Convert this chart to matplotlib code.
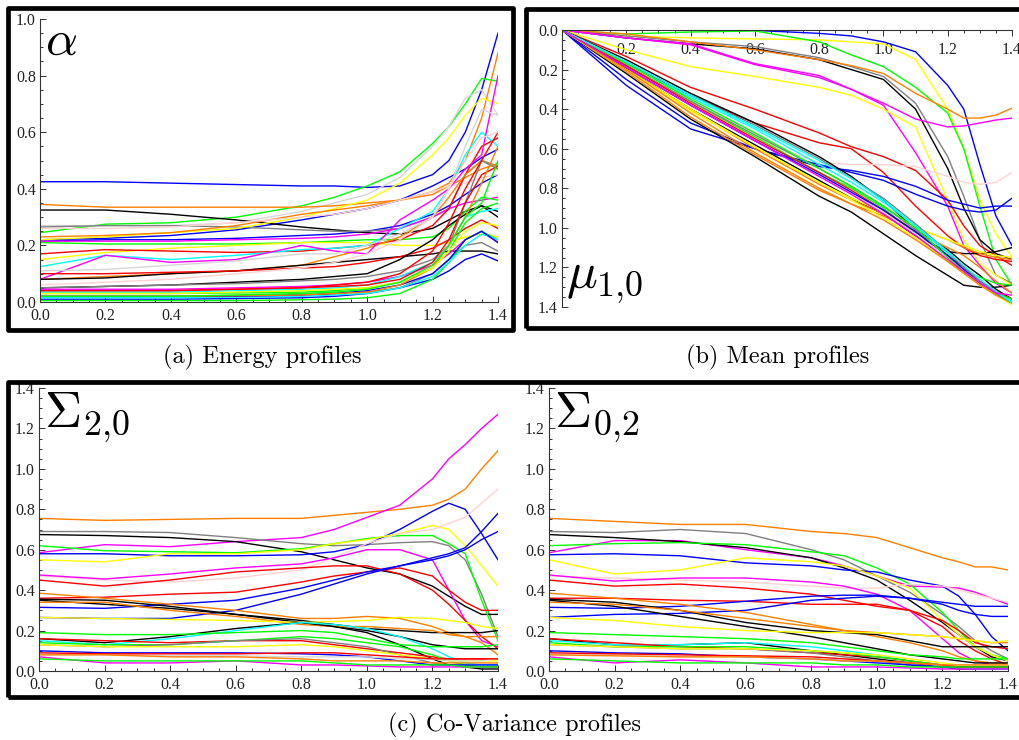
import matplotlib
matplotlib.use('Agg')
import matplotlib.pyplot as plt
from matplotlib.patches import Rectangle
from matplotlib.ticker import MultipleLocator

plt.rcParams['font.family'] = ['Liberation Serif', 'DejaVu Serif']
plt.rcParams['mathtext.fontset'] = 'cm'

# shared x grid of the profiles
xs = [0.0, 0.2, 0.4, 0.6, 0.8, 0.9, 1.0, 1.1, 1.2, 1.25, 1.3, 1.35, 1.4]

# (a) energy profiles
energy_colors = ['blue', 'blue', 'blue', 'blue', 'green', 'lightgray', 'orange', 'black',
                 'gray', 'yellow', 'orange', 'pink', 'magenta', 'green', 'yellow', 'red',
                 'orange', 'cyan', 'magenta', 'lightgray', 'black', 'red', 'black', 'gray',
                 'magenta', 'red', 'cyan', 'green', 'red', 'gray', 'green', 'cyan', 'blue',
                 'orange', 'yellow', 'pink', 'green']
energy_vals = [
    [.425, .425, .42, .415, .41, .41, .405, .41, .45, .5, .6, .75, .95],
    [.22, .225, .235, .255, .29, .31, .33, .36, .41, .44, .47, .51, .54],
    [.215, .22, .22, .225, .235, .24, .25, .27, .31, .34, .38, .42, .45],
    [.01, .01, .01, .012, .015, .02, .03, .05, .08, .11, .15, .17, .145],
    [.245, .275, .28, .3, .34, .37, .41, .46, .56, .62, .7, .79, .78],
    [.27, .27, .27, .28, .32, .35, .38, .44, .55, .62, .72, .75, .66],
    [.345, .335, .335, .335, .335, .34, .35, .36, .39, .42, .5, .65, .88],
    [.325, .325, .31, .29, .265, .255, .245, .24, .26, .29, .32, .34, .3],
    [.265, .27, .27, .265, .255, .25, .25, .26, .3, .33, .45, .5, .48],
    [.22, .23, .245, .26, .3, .33, .36, .42, .52, .58, .66, .72, .7],
    [.23, .235, .245, .27, .31, .325, .34, .36, .38, .41, .44, .47, .49],
    [.26, .26, .265, .28, .3, .31, .33, .36, .39, .41, .42, .44, .45],
    [.215, .215, .215, .22, .225, .23, .24, .26, .3, .33, .35, .36, .37],
    [.21, .205, .205, .205, .21, .215, .22, .22, .23, .26, .32, .37, .36],
    [.15, .175, .19, .2, .21, .21, .21, .2, .2, .21, .23, .24, .23],
    [.17, .185, .18, .175, .18, .19, .2, .22, .27, .33, .45, .55, .58],
    [.08, .09, .1, .11, .13, .16, .19, .23, .3, .37, .45, .5, .47],
    [.125, .165, .15, .165, .185, .19, .2, .26, .32, .4, .52, .6, .55],
    [.08, .165, .14, .15, .2, .18, .17, .29, .36, .4, .47, .52, .8],
    [.11, .115, .13, .145, .17, .17, .2, .24, .3, .4, .55, .68, .66],
    [.08, .085, .1, .11, .13, .14, .15, .16, .17, .18, .18, .18, .17],
    [.1, .1, .105, .11, .12, .125, .14, .16, .19, .22, .26, .29, .26],
    [.05, .055, .06, .07, .08, .09, .1, .15, .22, .27, .31, .34, .32],
    [.05, .055, .06, .065, .075, .08, .09, .11, .15, .2, .35, .5, .47],
    [.045, .045, .045, .05, .055, .06, .07, .09, .13, .17, .22, .25, .21],
    [.04, .04, .04, .045, .05, .06, .07, .1, .18, .28, .4, .5, .6],
    [.035, .035, .035, .04, .045, .05, .06, .09, .14, .2, .3, .32, .33],
    [.03, .03, .03, .032, .035, .04, .05, .07, .12, .18, .28, .33, .35],
    [.04, .04, .04, .045, .05, .055, .06, .08, .14, .22, .35, .45, .48],
    [.02, .02, .02, .022, .025, .03, .035, .05, .1, .15, .2, .21, .18],
    [.005, .005, .005, .005, .008, .01, .015, .03, .08, .14, .22, .25, .22],
    [.015, .015, .015, .017, .02, .025, .03, .05, .09, .14, .2, .24, .22],
    [.02, .02, .02, .02, .025, .03, .04, .06, .1, .15, .22, .25, .21],
    [.02, .02, .02, .022, .025, .03, .035, .06, .12, .2, .3, .42, .55],
    [.03, .03, .03, .035, .04, .045, .05, .07, .12, .18, .25, .28, .27],
    [.06, .07, .08, .1, .12, .14, .17, .22, .3, .4, .5, .58, .6],
    [.02, .02, .02, .025, .03, .035, .045, .07, .13, .2, .3, .35, .5],
]

# (b) mean profiles
mean_colors = ['blue', 'yellow', 'green', 'gray', 'black', 'orange', 'magenta', 'magenta',
               'yellow', 'red', 'red', 'pink', 'blue', 'blue', 'black', 'black', 'black',
               'orange', 'orange', 'yellow', 'green', 'cyan', 'gray', 'lightgray', 'yellow',
               'red', 'blue', 'green', 'orange', 'gray', 'cyan', 'magenta']
mean_vals = [
    [0, 0, 0, .002, .017, .03, .06, .11, .28, .4, .68, .94, 1.09],
    [0, .03, .04, .045, .05, .06, .07, .15, .4, .6, .86, 1.03, 1.15],
    [0, .02, .01, .005, .06, .126, .185, .29, .42, .6, .89, 1.16, 1.29],
    [0, .03, .06, .084, .14, .185, .235, .37, .64, .84, 1.06, 1.24, 1.28],
    [0, .04, .07, .095, .15, .2, .25, .4, .7, .9, 1.06, 1.13, 1.16],
    [0, .02, .06, .1, .15, .18, .22, .32, .4, .445, .445, .43, .395],
    [0, .04, .07, .17, .23, .3, .37, .45, .49, .485, .47, .455, .445],
    [0, .04, .075, .175, .24, .3, .38, .62, .89, 1.09, 1.19, 1.28, 1.33],
    [0, .1, .185, .235, .29, .33, .4, .49, .86, 1.06, 1.18, 1.24, 1.29],
    [0, .134, .29, .4, .52, .59, .64, .71, .86, .99, 1.09, 1.14, 1.19],
    [0, .17, .33, .47, .57, .6, .72, .89, 1.04, 1.1, 1.14, 1.16, 1.17],
    [0, .2, .38, .55, .67, .68, .68, .69, .74, .77, .78, .77, .72],
    [0, .28, .5, .6, .69, .71, .74, .79, .86, .88, .9, .89, .89],
    [0, .25, .47, .6, .68, .72, .76, .83, .89, .91, .92, .91, .85],
    [0, .15, .32, .47, .64, .74, .86, 1.01, 1.11, 1.18, 1.24, 1.31, 1.36],
    [0, .22, .45, .64, .84, .92, 1.03, 1.14, 1.24, 1.29, 1.3, 1.3, 1.29],
    [0, .2, .4, .58, .76, .85, .93, 1.04, 1.12, 1.13, 1.13, 1.12, 1.1],
    [0, .21, .44, .63, .81, .88, .94, 1.02, 1.1, 1.14, 1.2, 1.27, 1.33],
    [0, .2, .4, .6, .78, .86, .93, 1.0, 1.06, 1.1, 1.13, 1.15, 1.16],
    [0, .2, .41, .59, .77, .85, .92, 1.0, 1.06, 1.09, 1.12, 1.14, 1.15],
    [0, .18, .36, .54, .72, .8, .9, 1.03, 1.17, 1.22, 1.25, 1.28, 1.29],
    [0, .17, .34, .5, .68, .77, .87, .99, 1.13, 1.2, 1.27, 1.33, 1.37],
    [0, .18, .36, .53, .7, .79, .89, 1.01, 1.14, 1.21, 1.28, 1.34, 1.38],
    [0, .19, .38, .56, .74, .83, .92, 1.03, 1.15, 1.22, 1.28, 1.34, 1.38],
    [0, .2, .4, .59, .77, .86, .95, 1.05, 1.17, 1.23, 1.29, 1.34, 1.39],
    [0, .18, .37, .55, .72, .81, .91, 1.02, 1.14, 1.2, 1.27, 1.32, 1.36],
    [0, .19, .38, .56, .73, .82, .91, 1.02, 1.14, 1.21, 1.27, 1.33, 1.38],
    [0, .17, .35, .52, .7, .79, .89, 1.0, 1.15, 1.22, 1.28, 1.33, 1.36],
    [0, .2, .42, .62, .8, .88, .96, 1.06, 1.17, 1.23, 1.29, 1.34, 1.38],
    [0, .16, .33, .48, .65, .75, .85, .98, 1.12, 1.2, 1.27, 1.33, 1.38],
    [0, .16, .33, .49, .66, .75, .86, .99, 1.12, 1.19, 1.26, 1.32, 1.38],
    [0, .19, .38, .56, .74, .83, .93, 1.04, 1.16, 1.22, 1.28, 1.33, 1.34],
]

# (c) co-variance profiles, both panels share the colour order
cov_colors = ['orange', 'magenta', 'gray', 'black', 'green', 'blue', 'yellow', 'pink',
              'magenta', 'red', 'red', 'blue', 'blue', 'orange', 'black', 'black', 'orange',
              'yellow', 'black', 'cyan', 'green', 'red', 'green', 'gray', 'yellow', 'blue',
              'lightgray', 'red', 'magenta', 'green', 'orange']
cov20_vals = [
    [.755, .745, .75, .755, .755, .77, .785, .8, .82, .85, .9, 1.0, 1.09],
    [.585, .625, .615, .64, .66, .7, .76, .82, .95, 1.05, 1.12, 1.2, 1.27],
    [.69, .69, .685, .66, .63, .62, .625, .635, .64, .62, .55, .38, .17],
    [.675, .67, .66, .64, .59, .55, .51, .48, .42, .37, .32, .28, .28],
    [.62, .595, .59, .585, .605, .63, .655, .67, .67, .63, .58, .35, .15],
    [.58, .58, .57, .57, .575, .59, .625, .7, .79, .83, .8, .68, .55],
    [.55, .54, .58, .58, .6, .63, .65, .68, .72, .7, .62, .52, .42],
    [.47, .45, .44, .46, .5, .56, .63, .68, .7, .73, .76, .83, .9],
    [.475, .455, .48, .51, .53, .56, .6, .6, .55, .4, .25, .15, .12],
    [.45, .42, .45, .49, .51, .52, .52, .48, .4, .33, .25, .17, .11],
    [.36, .365, .38, .39, .44, .47, .49, .51, .47, .4, .34, .3, .3],
    [.315, .31, .33, .35, .41, .45, .49, .52, .55, .57, .6, .65, .69],
    [.265, .26, .26, .3, .38, .43, .48, .52, .56, .58, .61, .69, .78],
    [.385, .36, .33, .3, .26, .26, .27, .26, .22, .19, .17, .14, .08],
    [.355, .35, .32, .28, .25, .23, .21, .2, .19, .19, .19, .19, .2],
    [.35, .33, .31, .28, .24, .22, .2, .17, .13, .12, .11, .11, .11],
    [.34, .34, .3, .27, .23, .22, .22, .21, .2, .18, .17, .17, .17],
    [.265, .26, .255, .25, .24, .245, .25, .265, .26, .25, .24, .22, .21],
    [.16, .14, .17, .21, .24, .22, .19, .13, .06, .03, .02, .01, .01],
    [.15, .13, .16, .2, .24, .23, .21, .17, .11, .07, .04, .03, .03],
    [.19, .18, .18, .19, .2, .19, .16, .13, .12, .12, .12, .12, .13],
    [.16, .15, .14, .15, .15, .13, .11, .09, .07, .06, .06, .06, .06],
    [.14, .13, .13, .15, .17, .16, .14, .12, .08, .05, .03, .02, .02],
    [.13, .12, .13, .15, .16, .14, .12, .08, .04, .03, .02, .02, .02],
    [.13, .12, .12, .12, .13, .12, .1, .08, .06, .05, .05, .05, .05],
    [.1, .09, .09, .09, .085, .08, .07, .05, .03, .03, .03, .03, .03],
    [.08, .08, .075, .075, .07, .07, .07, .06, .06, .05, .05, .05, .06],
    [.09, .085, .085, .085, .09, .09, .08, .07, .06, .06, .06, .06, .06],
    [.07, .04, .04, .05, .03, .03, .025, .02, .02, .02, .02, .02, .02],
    [.06, .05, .05, .05, .05, .04, .03, .03, .03, .03, .02, .02, .02],
    [.08, .08, .07, .07, .06, .05, .05, .05, .04, .04, .04, .04, .04],
]
cov02_vals = [
    [.755, .74, .725, .725, .69, .68, .66, .61, .56, .54, .515, .515, .5],
    [.585, .645, .645, .6, .56, .52, .47, .42, .415, .41, .39, .36, .33],
    [.69, .685, .7, .68, .6, .55, .47, .39, .28, .22, .15, .1, .06],
    [.675, .66, .64, .61, .56, .51, .45, .35, .24, .18, .12, .07, .05],
    [.62, .63, .635, .625, .59, .57, .51, .43, .29, .2, .12, .08, .06],
    [.575, .58, .57, .535, .52, .5, .49, .45, .42, .37, .28, .17, .1],
    [.55, .48, .5, .56, .54, .52, .47, .41, .25, .18, .12, .08, .05],
    [.47, .46, .45, .44, .42, .41, .41, .43, .42, .4, .38, .36, .34],
    [.475, .445, .46, .46, .44, .42, .38, .3, .16, .09, .05, .03, .02],
    [.45, .42, .43, .41, .38, .35, .32, .3, .22, .15, .1, .06, .03],
    [.36, .36, .35, .345, .33, .33, .33, .3, .25, .2, .14, .12, .11],
    [.315, .31, .32, .345, .37, .375, .375, .36, .34, .33, .32, .32, .32],
    [.265, .28, .285, .3, .35, .36, .37, .36, .33, .3, .28, .27, .27],
    [.385, .36, .33, .29, .23, .2, .17, .14, .1, .07, .05, .04, .03],
    [.355, .34, .3, .24, .2, .19, .18, .15, .12, .12, .12, .12, .12],
    [.35, .32, .27, .22, .17, .14, .11, .08, .06, .05, .04, .04, .04],
    [.34, .33, .3, .26, .22, .2, .19, .18, .17, .16, .15, .14, .14],
    [.265, .25, .22, .2, .19, .19, .19, .18, .17, .16, .15, .14, .15],
    [.16, .13, .13, .14, .1, .08, .06, .04, .02, .01, .01, .01, .01],
    [.15, .13, .13, .14, .12, .1, .08, .05, .02, .015, .01, .01, .01],
    [.19, .18, .17, .16, .14, .12, .1, .08, .07, .06, .06, .06, .06],
    [.16, .14, .12, .11, .09, .08, .07, .05, .03, .02, .02, .02, .02],
    [.14, .12, .12, .12, .1, .09, .07, .05, .03, .02, .02, .02, .02],
    [.13, .12, .11, .11, .09, .07, .05, .03, .02, .02, .02, .02, .02],
    [.13, .12, .11, .11, .1, .09, .08, .06, .04, .03, .03, .03, .03],
    [.1, .09, .085, .07, .06, .05, .04, .03, .02, .02, .02, .02, .02],
    [.08, .08, .07, .07, .06, .05, .05, .04, .03, .03, .03, .03, .03],
    [.09, .085, .08, .075, .07, .06, .05, .04, .03, .02, .02, .02, .02],
    [.07, .04, .055, .04, .02, .02, .02, .015, .01, .01, .01, .01, .01],
    [.06, .05, .04, .04, .04, .03, .03, .02, .02, .02, .02, .02, .02],
    [.08, .075, .07, .07, .06, .05, .05, .04, .03, .03, .03, .03, .03],
]

palette = {'blue': '#0000ff', 'red': '#ff0000', 'green': '#00ff00', 'yellow': '#ffff00',
           'orange': '#ff8000', 'magenta': '#ff00ff', 'cyan': '#00ffff', 'black': '#000000',
           'gray': '#808080', 'lightgray': '#d6d6d6', 'pink': '#ffd2d2'}

fig = plt.figure(figsize=(10.19, 7.40), dpi=100)


def frame(x0, y0, x1, y1):
    # thick black border round a sub-figure, in pixels
    W, H = 1019.0, 740.0
    fig.patches.append(Rectangle((x0 / W, 1 - y1 / H), (x1 - x0) / W, (y1 - y0) / H,
                                 transform=fig.transFigure, fill=False, ec='black',
                                 lw=3.4, joinstyle='round'))


def style_axis(ax, ymax, top=False):
    ax.set_facecolor('none')
    ax.set_xlim(0, 1.4)
    ax.xaxis.set_major_locator(MultipleLocator(0.2))
    ax.xaxis.set_minor_locator(MultipleLocator(0.05))
    ax.yaxis.set_major_locator(MultipleLocator(0.2))
    ax.yaxis.set_minor_locator(MultipleLocator(0.05))
    ax.xaxis.set_major_formatter(lambda v, p: '%.1f' % v)
    ax.yaxis.set_major_formatter(lambda v, p: '%.1f' % v)
    ax.spines['right'].set_visible(False)
    for s in ['left', 'top', 'bottom']:
        ax.spines[s].set_color('#333333')
        ax.spines[s].set_linewidth(0.8)
    ax.tick_params(which='both', direction='in', colors='#333333', labelsize=11.5,
                   labelcolor='#222222', width=0.7)
    ax.tick_params(which='major', length=4.5)
    ax.tick_params(which='minor', length=2.5)
    if top:
        ax.set_ylim(ymax, 0)
        ax.spines['bottom'].set_visible(False)
        ax.xaxis.tick_top()
        ax.tick_params(axis='x', which='both', top=True, bottom=False,
                       labeltop=True, labelbottom=False)
        ax.tick_params(axis='x', which='major', pad=-20)
        ax.xaxis.set_major_formatter(lambda v, p: '' if v < 0.1 else '%.1f' % v)
    else:
        ax.set_ylim(0, ymax)
        ax.spines['top'].set_visible(False)
        ax.tick_params(axis='x', pad=4)
    ax.tick_params(axis='y', pad=3)


def draw(ax, colors, vals):
    for c, v in zip(colors, vals):
        ax.plot(xs, v, color=palette[c], lw=1.0)


# (a)
ax_a = fig.add_axes([40 / 1019, 1 - 302 / 740, 458 / 1019, 283 / 740])
draw(ax_a, energy_colors, energy_vals)
style_axis(ax_a, 1.0)
ax_a.text(0.01, 1.0, r'$\alpha$', transform=ax_a.transAxes, fontsize=36,
          va='top', ha='left')

# (b)
ax_b = fig.add_axes([562 / 1019, 1 - 307 / 740, 450 / 1019, 277 / 740])
draw(ax_b, mean_colors, mean_vals)
style_axis(ax_b, 1.4, top=True)
ax_b.text(0.01, 0.005, r'$\mu_{1{,}0}$', transform=ax_b.transAxes, fontsize=37,
          va='bottom', ha='left')

# (c)
ax_c1 = fig.add_axes([39 / 1019, 1 - 671 / 740, 459 / 1019, 283 / 740])
draw(ax_c1, cov_colors, cov20_vals)
style_axis(ax_c1, 1.4)
ax_c1.text(0.01, 0.99, r'$\Sigma_{2{,}0}$', transform=ax_c1.transAxes, fontsize=37,
           va='top', ha='left')

ax_c2 = fig.add_axes([549 / 1019, 1 - 671 / 740, 459 / 1019, 283 / 740])
draw(ax_c2, cov_colors, cov02_vals)
style_axis(ax_c2, 1.4)
ax_c2.text(0.01, 0.99, r'$\Sigma_{0{,}2}$', transform=ax_c2.transAxes, fontsize=37,
           va='top', ha='left')

frame(8, 8, 513, 330)
frame(526, 9, 1035, 328)
frame(8, 382, 1035, 697)

fig.text(262 / 1019, 1 - 357 / 740, '(a) Energy profiles', family='cmr10',
         fontsize=17.5, ha='center', va='center')
fig.text(778 / 1019, 1 - 357 / 740, '(b) Mean profiles', family='cmr10',
         fontsize=17.5, ha='center', va='center')
fig.text(515 / 1019, 1 - 725 / 740, '(c) Co-Variance profiles', family='cmr10',
         fontsize=17.5, ha='center', va='center')

fig.savefig('out.png', dpi=100)
